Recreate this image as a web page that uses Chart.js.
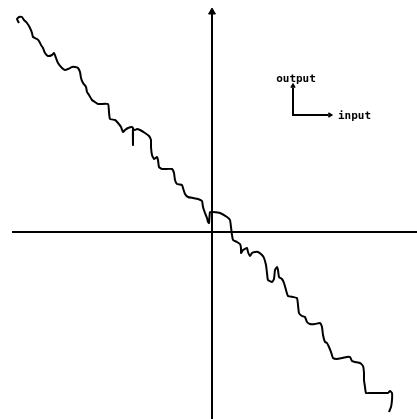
<!DOCTYPE html>
<html lang="en">
<head>
    <meta charset="UTF-8">
    <title>Input / output sketch</title>
    <script src="https://cdn.jsdelivr.net/npm/chart.js"></script>
    <style>
        html, body { margin: 0; padding: 0; background: #fff; }
        #wrap { width: 417px; height: 419px; }
    </style>
</head>
<body>
    <div id="wrap"><canvas id="sketch"></canvas></div>
    <script>
        // traced curve, [input, output] pairs
        const tracePoints = [
            [-193, 209], [-195, 213], [-193, 215], [-190, 215], [-188, 212], [-185, 209], [-182, 204], [-180, 199],
            [-179, 195], [-175, 193], [-173, 191], [-171, 187], [-169, 184], [-167, 179], [-164, 176], [-160, 177],
            [-158, 179], [-156, 174], [-154, 169], [-150, 164], [-147, 162], [-144, 163], [-140, 165], [-137, 165],
            [-134, 164], [-132, 160], [-131, 154], [-129, 149], [-126, 145], [-125, 140], [-123, 137], [-120, 132],
            [-117, 130], [-114, 128], [-104, 128], [-103, 120], [-102, 113], [-97, 112], [-94, 109], [-91, 105],
            [-89, 100], [-87, 102], [-84, 104], [-80, 105], [-79, 104], [-79, 87], [-79, 103], [-77, 102],
            [-75, 103], [-72, 102], [-67, 99], [-63, 96], [-61, 92], [-61, 85], [-60, 77], [-58, 73],
            [-55, 75], [-54, 72], [-53, 65], [-50, 63], [-40, 63], [-38, 59], [-37, 52], [-35, 48],
            [-30, 47], [-29, 44], [-27, 38], [-24, 35], [-19, 34], [-14, 33], [-10, 31], [-9, 25],
            [-7, 19], [-5, 14], [-4, 10], [-3, 9], [-2, 20], [1, 20], [8, 19], [15, 15],
            [18, 12], [19, 5], [20, -3], [21, -8], [25, -10], [28, -12], [29, -16], [29, -21],
            [31, -18], [35, -16], [36, -20], [38, -24], [40, -21], [43, -20], [46, -20], [50, -23],
            [52, -26], [54, -33], [55, -41], [56, -48], [60, -50], [62, -47], [63, -38], [65, -35],
            [66, -38], [67, -45], [70, -47], [72, -51], [74, -58], [76, -64], [81, -65], [85, -66],
            [86, -73], [87, -81], [90, -84], [93, -85], [95, -90], [98, -92], [103, -92], [108, -91],
            [110, -95], [111, -103], [113, -110], [115, -111], [117, -115], [119, -120], [121, -126], [125, -127],
            [130, -126], [135, -125], [138, -125], [140, -129], [143, -130], [148, -131], [151, -134], [152, -141],
            [152, -148], [153, -155], [154, -161], [158, -161], [165, -161], [171, -161], [176, -161], [178, -159],
            [180, -161], [180, -168], [179, -175], [177, -180]
        ];

        // view and axis extents
        const xRange = [-212, 205];
        const yRange = [-187, 232];
        const xAxisSpan = [-200, 205];
        const yAxisSpan = [-187, 218];

        // little key in the top right
        const keyCorner = [81, 117];
        const keyTops = [146, 118];   // up arrow tip (y), right arrow tip (x)
        const keyLabels = ['output', 'input'];

        const toXY = p => ({ x: p[0], y: p[1] });
        const ink = '#000';

        const keyText = {
            id: 'keyText',
            afterDatasetsDraw(chart) {
                const { ctx, scales } = chart;
                ctx.save();
                ctx.fillStyle = ink;
                ctx.font = 'bold 11px "DejaVu Sans Mono", monospace';
                ctx.textBaseline = 'middle';
                ctx.textAlign = 'center';
                ctx.fillText(keyLabels[0], scales.x.getPixelForValue(keyCorner[0] + 3),
                    scales.y.getPixelForValue(keyTops[0] + 7));
                ctx.textAlign = 'left';
                ctx.fillText(keyLabels[1], scales.x.getPixelForValue(keyTops[1] + 8),
                    scales.y.getPixelForValue(keyCorner[1] - 1));
                ctx.restore();
            }
        };

        const lineSet = (pts, width) => ({
            data: pts.map(toXY),
            showLine: true,
            borderColor: ink,
            borderWidth: width,
            pointRadius: 0,
            fill: false
        });

        const arrowHead = (pt, rot, r) => ({
            data: [toXY(pt)],
            showLine: false,
            pointStyle: 'triangle',
            rotation: rot,
            pointRadius: r,
            backgroundColor: ink,
            borderColor: ink,
            borderWidth: 1
        });

        const curve = lineSet(tracePoints, 2);
        curve.tension = 0.15;

        new Chart(document.getElementById('sketch'), {
            type: 'scatter',
            data: {
                datasets: [
                    lineSet([[xAxisSpan[0], 0], [xAxisSpan[1], 0]], 2),
                    lineSet([[0, yAxisSpan[0]], [0, yAxisSpan[1]]], 2),
                    arrowHead([0, yAxisSpan[1] + 2], 0, 4),
                    lineSet([[keyCorner[0], keyTops[0] - 2], keyCorner, [keyTops[1] - 2, keyCorner[1]]], 2),
                    arrowHead([keyCorner[0], keyTops[0]], 0, 2.5),
                    arrowHead([keyTops[1], keyCorner[1]], 90, 2.5),
                    curve
                ]
            },
            options: {
                responsive: true,
                maintainAspectRatio: false,
                animation: false,
                layout: { padding: 0, autoPadding: false },
                plugins: { legend: { display: false }, tooltip: { enabled: false } },
                scales: {
                    x: { type: 'linear', display: false, min: xRange[0], max: xRange[1] },
                    y: { type: 'linear', display: false, min: yRange[0], max: yRange[1] }
                }
            },
            plugins: [keyText]
        });
    </script>
</body>
</html>
